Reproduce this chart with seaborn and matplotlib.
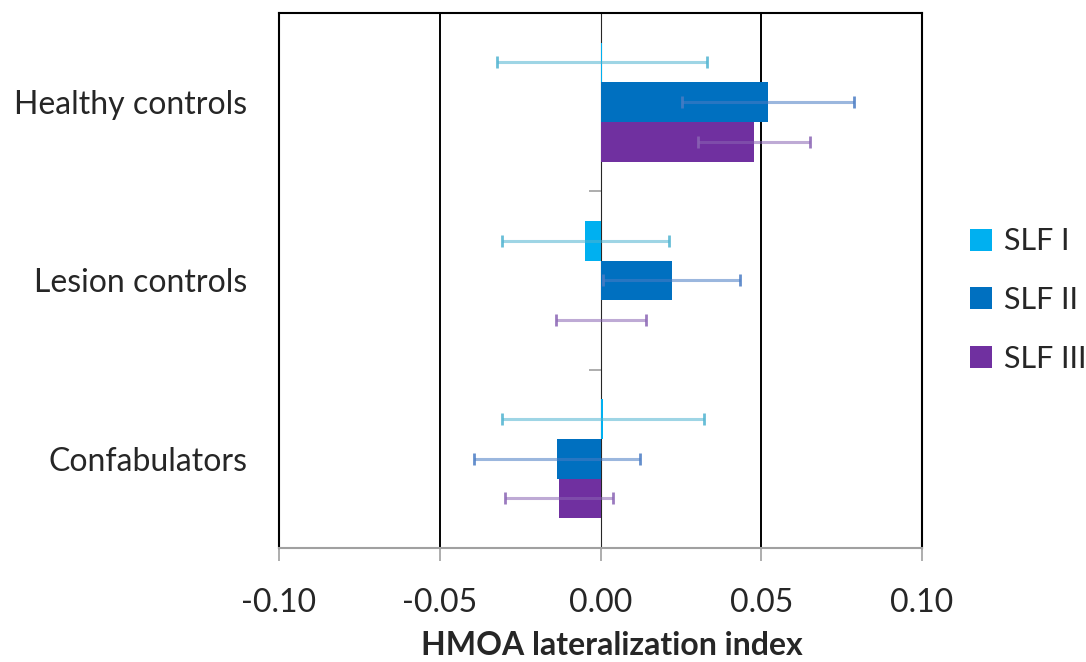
import matplotlib
matplotlib.use("Agg")
import matplotlib.pyplot as plt
import seaborn as sns
import pandas as pd
import numpy as np

# Group means and error half-widths of the HMOA lateralization index
groups = ["Healthy controls", "Lesion controls", "Confabulators"]
tracts = ["SLF I", "SLF II", "SLF III"]
slf1_mean = [0.0004, -0.0047, 0.0008]
slf2_mean = [0.0520, 0.0222, -0.0135]
slf3_mean = [0.0478, 0.0002, -0.0129]
slf1_err = [0.0327, 0.0260, 0.0314]
slf2_err = [0.0267, 0.0213, 0.0258]
slf3_err = [0.0174, 0.0141, 0.0168]
x_ticks = [-0.10, -0.05, 0.00, 0.05, 0.10]

bar_colors = ["#00b0f0", "#0070c0", "#7030a0"]
err_colors = ["#4fb3d0", "#4a7cc4", "#8a64b4"]

means = [slf1_mean, slf2_mean, slf3_mean]
errs = [slf1_err, slf2_err, slf3_err]
rows = []
for t, m_list, e_list in zip(tracts, means, errs):
    for g, m, e in zip(groups, m_list, e_list):
        rows.append({"group": g, "tract": t, "value": m, "err": e})
df = pd.DataFrame(rows)

sns.set_style("white")
plt.rcParams["font.family"] = ["Lato", "DejaVu Sans"]

fig = plt.figure(figsize=(10.86, 6.62), dpi=100)
ax = fig.add_axes([0.2569, 0.1722, 0.5921, 0.8082])

sns.barplot(data=df, x="value", y="group", hue="tract", order=groups,
            hue_order=tracts, palette=bar_colors, orient="h", width=0.667,
            errorbar=None, saturation=1, ax=ax, legend=True, linewidth=0)

# error bars centred on each bar, positioned from the drawn patches
for i, t in enumerate(tracts):
    sub = df[df["tract"] == t].set_index("group").loc[groups]
    cont = ax.containers[i]
    ys = [p.get_y() + p.get_height() / 2 for p in cont.patches]
    line, caps, cols = ax.errorbar(sub["value"].values, ys, xerr=sub["err"].values,
                                   fmt="none", ecolor=err_colors[i], elinewidth=2.2,
                                   capsize=4.2, capthick=2.0, zorder=4)
    for c in cols:
        c.set_alpha(0.55)
    for c in caps:
        c.set_alpha(0.85)

ax.set_xlim(-0.10, 0.10)
ax.set_ylim(2.5, -0.5)
ax.set_xticks(x_ticks)
ax.set_xticklabels([f"{v:.2f}" for v in x_ticks])
ax.tick_params(axis="x", labelsize=23, length=9, width=1.2, color="#a0a0a0",
               direction="out", pad=20, bottom=True)
ax.tick_params(axis="y", labelsize=23, length=0, pad=23)
ax.set_ylabel("")
ax.set_xlabel("HMOA lateralization index", fontsize=23, fontweight="bold",
              labelpad=16)
ax.xaxis.set_label_coords(0.518, -0.155)

# vertical reference lines at ±0.05
ax.grid(axis="x", color="black", linewidth=1.4)
ax.grid(axis="y", visible=False)
for gl, v in zip(ax.get_xgridlines(), x_ticks):
    if v == 0:
        gl.set_visible(False)
ax.set_axisbelow(True)

for side in ["top", "left", "right"]:
    ax.spines[side].set_visible(True)
    ax.spines[side].set_color("black")
    ax.spines[side].set_linewidth(1.5)
ax.spines["bottom"].set_color("#a0a0a0")
ax.spines["bottom"].set_linewidth(1.5)

# category axis drawn at x = 0 with boundary ticks pointing left
sec = ax.secondary_yaxis(0.5)
sec.set_yticks([0.5, 1.5])
sec.set_yticklabels([])
sec.tick_params(axis="y", length=9, width=1.2, color="#a0a0a0", direction="in")
sec.spines["left"].set_color("#a0a0a0")
sec.spines["left"].set_linewidth(1.6)

handles, labels = ax.get_legend_handles_labels()
ax.legend(handles, labels, loc="center left", bbox_to_anchor=(1.032, 0.4636),
          frameon=False, fontsize=22, handlelength=0.72, handleheight=0.72,
          handletextpad=0.4, labelspacing=1.0)

fig.savefig("out.png", dpi=100)
